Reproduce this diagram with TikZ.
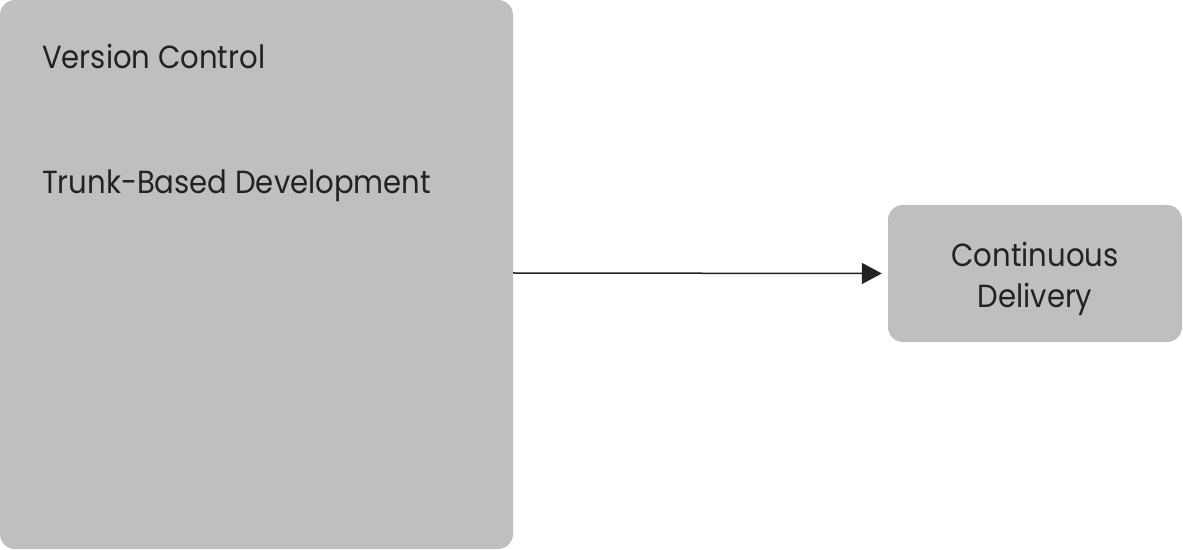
\documentclass[tikz,border=0pt]{standalone}
\usepackage{fontspec}
\setmainfont{Poppins}
\usetikzlibrary{arrows.meta}
\definecolor{boxgray}{HTML}{BFBFBF}
\definecolor{inkdark}{HTML}{222222}
\newcommand{\narrowtxt}[1]{\scalebox{0.91}[1]{#1}}
\begin{document}
\begin{tikzpicture}[x=1pt,y=1pt,
  graybox/.style={fill=boxgray,draw=none,rounded corners=15pt},
  lbl/.style={text=inkdark,font=\fontsize{32}{40}\selectfont,inner sep=0pt,anchor=base west},
  conn/.style={draw=inkdark,line width=1.5pt,shorten >=6pt,-{Triangle[length=20pt,width=21pt]}}]
\useasboundingbox (0,0) rectangle (1183,549);
\fill[graybox] (0,0) rectangle (513,549);
\node[graybox,minimum width=294pt,minimum height=137pt,inner sep=0pt] (cd) at (1035,275.5) {};
\coordinate (src) at (513,276);
\node[lbl] (vc) at (42,480) {\narrowtxt{Version Control}};
\node[lbl] (tbd) at (42,355) {\narrowtxt{Trunk-Based Development}};
\node[text=inkdark,font=\fontsize{32}{41}\selectfont,align=center,inner sep=0pt] (cdt) at (1035,270) {\narrowtxt{Continuous}\\\narrowtxt{Delivery}};
\draw[conn] (src) -- (cd.west);
\end{tikzpicture}
\end{document}
